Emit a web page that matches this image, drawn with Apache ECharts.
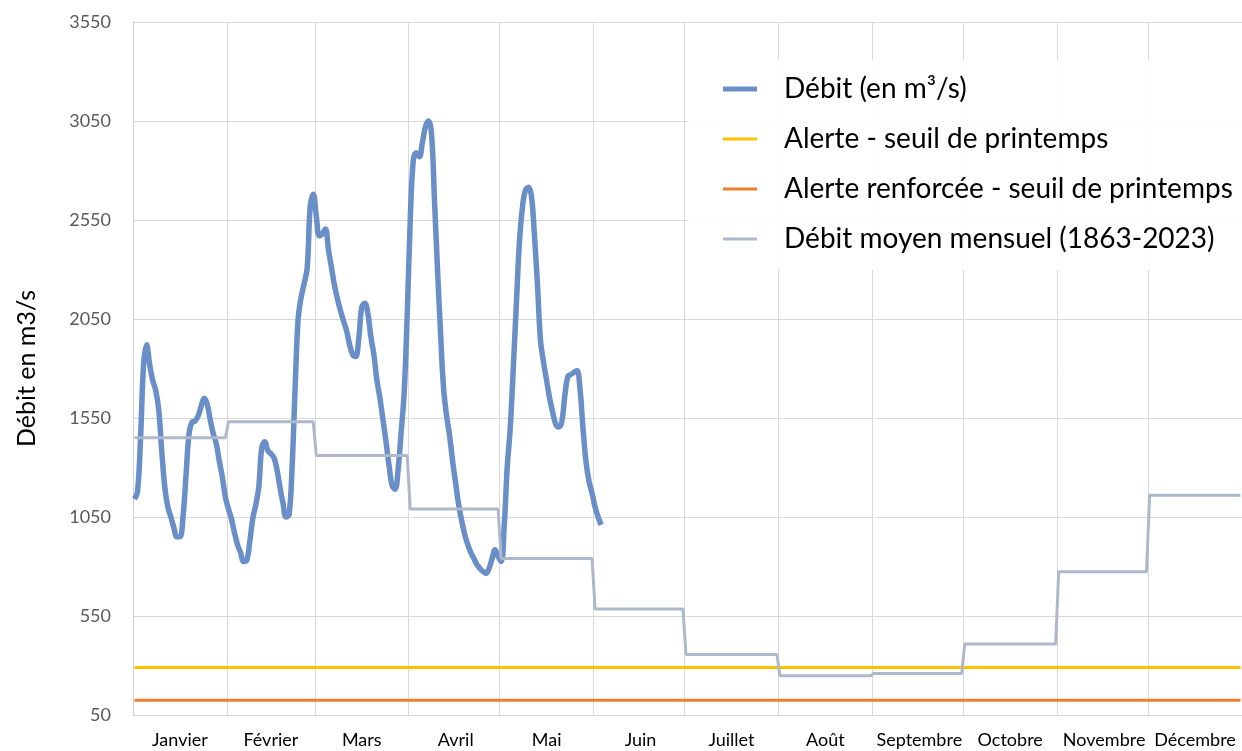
<!DOCTYPE html>
<html>
<head>
<meta charset="utf-8">
<script src="https://cdn.jsdelivr.net/npm/echarts@6/dist/echarts.min.js"></script>
<style>
    html, body { margin: 0; padding: 0; background: #fff; }
    #chart { width: 1242px; height: 751px; }
</style>
</head>
<body>
<div id="chart"></div>
<script>
// 2024 : année bissextile
const monthNames = ['Janvier', 'Février', 'Mars', 'Avril', 'Mai', 'Juin', 'Juillet', 'Août', 'Septembre', 'Octobre', 'Novembre', 'Décembre'];
const monthDays = [31, 29, 31, 30, 31, 30, 31, 31, 30, 31, 30, 31];

// débit journalier (m3/s) du 1er janvier au début juin
const debit = [
    1140, 1180, 1450, 1820, 1920, 1820, 1740, 1690, 1590, 1380,
    1200, 1100, 1050, 995, 950, 950, 1050, 1260, 1470, 1530,
    1535, 1560, 1610, 1650, 1620, 1540, 1470, 1420, 1330, 1250,
    1150, 1090, 1040, 970, 910, 870, 825, 830, 920, 1040,
    1110, 1200, 1400, 1430, 1385, 1370, 1350, 1290, 1200, 1120,
    1050, 1060, 1300, 1700, 2050, 2160, 2230, 2310, 2620, 2680,
    2570, 2470, 2480, 2505, 2400, 2310, 2220, 2150, 2090, 2040,
    1990, 1920, 1870, 1860, 1950, 2110, 2130, 2080, 1960, 1870,
    1740, 1650, 1540, 1430, 1310, 1210, 1190, 1290, 1480, 1680,
    2070, 2550, 2850, 2890, 2870, 2940, 3020, 3050, 2990, 2650,
    2300, 1980, 1700, 1560, 1460, 1330, 1220, 1110, 1030, 960,
    910, 870, 840, 810, 790, 775, 765, 790, 840, 885,
    850, 825, 1000, 1300, 1500, 1800, 2120, 2430, 2610, 2700,
    2715, 2670, 2470, 2220, 1940, 1830, 1740, 1650, 1580, 1520,
    1505, 1530, 1660, 1760, 1770, 1780, 1790, 1700, 1500, 1330,
    1230, 1170, 1100, 1050, 1010
];

// débit moyen mensuel 1863-2023
const debitMoyenMensuel = [1450, 1531, 1360, 1090, 841, 585, 356, 248, 260, 408, 773, 1160];

const alerteSeuil = 290;
const alerteRenforceeSeuil = 125;

const yMin = 50;
const yMax = 3550;
const yStep = 500;

// index du premier jour et du jour médian de chaque mois
const monthStarts = [];
const monthMids = [];
const dayMonth = [];
let acc = 0;
monthDays.forEach((n, m) => {
    monthStarts.push(acc);
    monthMids.push(acc + Math.floor(n / 2));
    for (let i = 0; i < n; i++) dayMonth.push(m);
    acc += n;
});
const days = dayMonth.map((m, i) => String(i + 1));

const moyenneJour = dayMonth.map(m => debitMoyenMensuel[m]);
const alerteJour = days.map(() => alerteSeuil);
const alerteRenfJour = days.map(() => alerteRenforceeSeuil);

const FONT = 'Lato, "Open Sans", sans-serif';

const chart = echarts.init(document.getElementById('chart'));
chart.setOption({
    backgroundColor: '#fff',
    animation: false,
    textStyle: { fontFamily: FONT },
    grid: {
        left: 133,
        right: 0,
        top: 22,
        bottom: 36,
        containLabel: false,
    },
    legend: {
        orient: 'vertical',
        left: 688,
        top: 60,
        padding: [14, 10, 16, 35],
        backgroundColor: 'rgba(255,255,255,0.88)',
        itemWidth: 34,
        itemHeight: 14,
        itemGap: 20,
        textStyle: {
            fontFamily: FONT,
            fontSize: 28,
            color: '#000',
            lineHeight: 30,
            padding: [0, 0, 0, 22],
        },
        data: [
            { name: 'Débit (en m³/s)', icon: 'path://M0,0H34V5H0Z' },
            { name: 'Alerte - seuil de printemps', icon: 'path://M0,0H34V3H0Z' },
            { name: 'Alerte renforcée - seuil de printemps', icon: 'path://M0,0H34V3H0Z' },
            { name: 'Débit moyen mensuel (1863-2023)', icon: 'path://M0,0H34V3H0Z' },
        ],
    },
    xAxis: {
        type: 'category',
        data: days,
        boundaryGap: true,
        axisLine: { show: true, lineStyle: { color: '#d9d9d9', width: 1 } },
        axisTick: { show: false },
        axisLabel: {
            interval: index => monthMids.includes(index),
            formatter: (value, index) => monthNames[dayMonth[index]],
            color: '#000',
            fontSize: 18,
            fontFamily: FONT,
            margin: 16,
        },
        splitLine: {
            show: true,
            interval: index => monthStarts.includes(index),
            lineStyle: { color: '#d9d9d9', width: 1 },
        },
    },
    yAxis: {
        type: 'value',
        min: yMin,
        max: yMax,
        interval: yStep,
        name: 'Débit en m3/s',
        nameLocation: 'middle',
        nameGap: 94,
        nameTextStyle: { fontFamily: FONT, fontSize: 25, color: '#000' },
        axisLine: { show: true, lineStyle: { color: '#d0d0d0', width: 1 } },
        axisTick: { show: false },
        axisLabel: {
            color: '#595959',
            fontSize: 18,
            fontFamily: FONT,
            margin: 22,
            formatter: v => String(v),
        },
        splitLine: { lineStyle: { color: '#d9d9d9', width: 1 } },
    },
    series: [
        {
            name: 'Débit (en m³/s)',
            type: 'line',
            data: debit,
            symbol: 'none',
            smooth: 0.4,
            lineStyle: { color: '#6a8fc8', width: 5.5 },
            itemStyle: { color: '#6a8fc8' },
            z: 3,
        },
        {
            name: 'Alerte - seuil de printemps',
            type: 'line',
            data: alerteJour,
            symbol: 'none',
            lineStyle: { color: '#ffc000', width: 3 },
            itemStyle: { color: '#ffc000' },
            z: 4,
        },
        {
            name: 'Alerte renforcée - seuil de printemps',
            type: 'line',
            data: alerteRenfJour,
            symbol: 'none',
            lineStyle: { color: '#ed7d31', width: 3 },
            itemStyle: { color: '#ed7d31' },
            z: 4,
        },
        {
            name: 'Débit moyen mensuel (1863-2023)',
            type: 'line',
            data: moyenneJour,
            symbol: 'none',
            lineStyle: { color: '#adb9ca', width: 3 },
            itemStyle: { color: '#adb9ca' },
            z: 5,
        },
    ],
});
</script>
</body>
</html>
